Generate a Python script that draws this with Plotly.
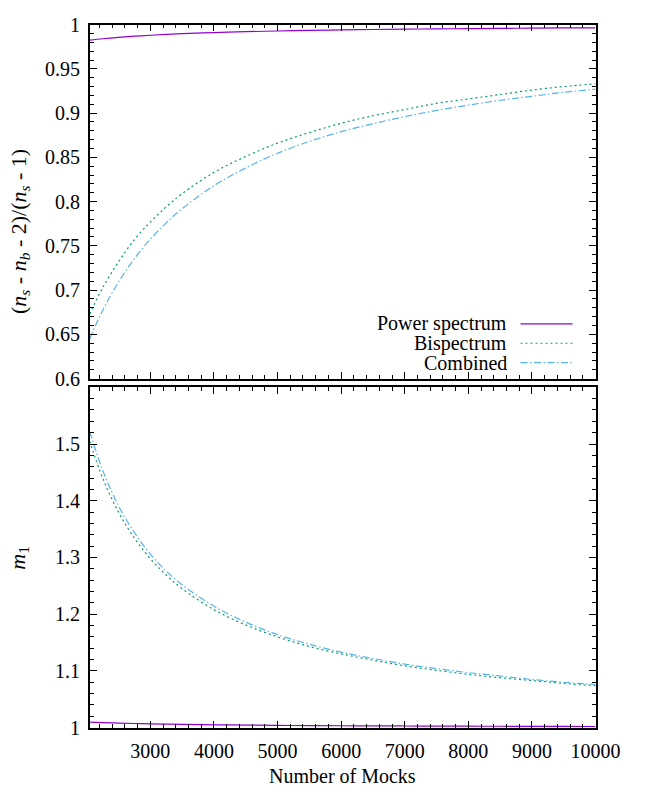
import plotly.graph_objects as go

# Number of mocks sampled along the x axis
n_mocks = [2048, 2250, 2500, 2750, 3000, 3250, 3500, 4000, 4500, 5000,
           5500, 6000, 6500, 7000, 7500, 8000, 8500, 9000, 9500, 10000]

# Hartlap-type correction factor (n_s - n_b - 2)/(n_s - 1)
hartlap_pk = [0.9824, 0.9840, 0.9856, 0.9869, 0.9880, 0.9889, 0.9897, 0.9910, 0.9920, 0.9928,
              0.9935, 0.9940, 0.9945, 0.9949, 0.9952, 0.9955, 0.9958, 0.9960, 0.9962, 0.9964]
hartlap_bk = [0.673, 0.7025, 0.732, 0.757, 0.777, 0.794, 0.809, 0.833, 0.851, 0.866,
              0.878, 0.8885, 0.897, 0.904, 0.911, 0.916, 0.921, 0.926, 0.930, 0.933]
hartlap_comb = [0.645, 0.677, 0.709, 0.7355, 0.7576, 0.776, 0.792, 0.818, 0.838, 0.8546,
                0.868, 0.879, 0.888, 0.896, 0.903, 0.909, 0.9145, 0.919, 0.9235, 0.927]

# m_1 factor
m1_pk = [1.0098, 1.0089, 1.0080, 1.0073, 1.0067, 1.0062, 1.0057, 1.0050, 1.0044, 1.0040,
         1.0036, 1.0033, 1.0031, 1.0029, 1.0027, 1.0025, 1.0024, 1.0022, 1.0021, 1.0020]
m1_bk = [1.505, 1.440, 1.380, 1.334, 1.298, 1.269, 1.245, 1.208, 1.181, 1.160,
         1.143, 1.130, 1.119, 1.109, 1.101, 1.094, 1.088, 1.083, 1.078, 1.074]
m1_comb = [1.522, 1.454, 1.391, 1.344, 1.306, 1.276, 1.252, 1.214, 1.186, 1.164,
           1.147, 1.133, 1.122, 1.112, 1.104, 1.097, 1.091, 1.085, 1.080, 1.076]

series_names = ["Power spectrum", "Bispectrum", "Combined"]
colors = ["#9400d3", "#009e73", "#56b4e9"]
dashes = ["solid", "2px,3px", "7px,2.5px,1.5px,2.5px"]

top_ticks = [0.6, 0.65, 0.7, 0.75, 0.8, 0.85, 0.9, 0.95, 1]
bottom_ticks = [1, 1.1, 1.2, 1.3, 1.4, 1.5]
x_ticks = [3000, 4000, 5000, 6000, 7000, 8000, 9000, 10000]

W, H = 661, 796
FONT = "'Liberation Serif', 'Times New Roman', Times, serif"
FS = 20
TITLE_FS = 22

fig = go.Figure()

top_series = [hartlap_pk, hartlap_bk, hartlap_comb]
bottom_series = [m1_pk, m1_bk, m1_comb]
for name, col, dash, yt, yb in zip(series_names, colors, dashes, top_series, bottom_series):
    fig.add_trace(go.Scatter(x=n_mocks, y=yt, mode="lines", name=name,
                             line=dict(color=col, width=1.2, dash=dash, shape="spline"),
                             xaxis="x2", yaxis="y2", showlegend=False))
    fig.add_trace(go.Scatter(x=n_mocks, y=yb, mode="lines", name=name,
                             line=dict(color=col, width=1.2, dash=dash, shape="spline"),
                             xaxis="x", yaxis="y", showlegend=False))

# Plot-area geometry (pixels)
left, right = 93.3, 619
top_t, top_b = 14, 378
bot_t, bot_b = 387, 737

axis_common = dict(showline=True, linecolor="black", linewidth=1.5, mirror="allticks",
                   ticks="inside", ticklen=7, tickwidth=1, tickcolor="black",
                   showgrid=False, zeroline=False,
                   tickfont=dict(family=FONT, size=FS, color="black"))

minor_x = dict(ticks="inside", ticklen=4, tickwidth=1, tickcolor="black",
               tickmode="linear", tick0=0, dtick=200, showgrid=False)

xrange = [2048, 10000]
fig.update_layout(
    width=W, height=H,
    margin=dict(l=0, r=0, t=0, b=0),
    paper_bgcolor="white", plot_bgcolor="white",
    font=dict(family=FONT, size=FS, color="black"),
    xaxis=dict(domain=[left / W, right / W], anchor="y", range=xrange,
               tickmode="array", tickvals=x_ticks, ticktext=[str(v) for v in x_ticks],
               ticklabelstandoff=5, minor=minor_x, **axis_common),
    xaxis2=dict(domain=[left / W, right / W], anchor="y2", range=xrange, matches="x",
                tickmode="array", tickvals=x_ticks, showticklabels=False,
                minor=minor_x, **axis_common),
    yaxis=dict(domain=[1 - bot_b / H, 1 - bot_t / H], anchor="x", range=[1, 1.6],
               tickmode="array", tickvals=bottom_ticks, ticktext=[f"{v:g}" for v in bottom_ticks],
               ticklabelstandoff=4,
               minor=dict(ticks="inside", ticklen=4, tickwidth=1, tickcolor="black",
                          tickmode="linear", tick0=0, dtick=0.02, showgrid=False),
               **axis_common),
    yaxis2=dict(domain=[1 - top_b / H, 1 - top_t / H], anchor="x2", range=[0.6, 1.0],
                tickmode="array", tickvals=top_ticks, ticktext=[f"{v:g}" for v in top_ticks],
                ticklabelstandoff=4,
                minor=dict(ticks="inside", ticklen=4, tickwidth=1, tickcolor="black",
                           tickmode="linear", tick0=0, dtick=0.01, showgrid=False),
                **axis_common),
)

annotations = [
    dict(text="(<i>n<sub>s</sub></i> - <i>n<sub>b</sub></i> - 2)/(<i>n<sub>s</sub></i> - 1)",
         x=20 / W, y=1 - 227 / H, xref="paper", yref="paper", textangle=-90,
         showarrow=False, xanchor="center", yanchor="middle",
         font=dict(family=FONT, size=TITLE_FS, color="black")),
    dict(text="<i>m</i><sub>1</sub>",
         x=20 / W, y=1 - 562 / H, xref="paper", yref="paper", textangle=-90,
         showarrow=False, xanchor="center", yanchor="middle",
         font=dict(family=FONT, size=TITLE_FS, color="black")),
    dict(text="Number of Mocks",
         x=(left + right) / 2 / W, y=1 - 787 / H, xref="paper", yref="paper",
         showarrow=False, xanchor="center", yanchor="middle",
         font=dict(family=FONT, size=FS, color="black")),
]

# Key in the lower right of the upper panel
shapes = []
key_rows = [321.7, 341.7, 361.7]
for name, col, dash, ry in zip(series_names, colors, dashes, key_rows):
    annotations.append(dict(text=name, x=529 / W, y=1 - ry / H, xref="paper", yref="paper",
                            showarrow=False, xanchor="right", yanchor="middle",
                            font=dict(family=FONT, size=FS, color="black")))
    shapes.append(dict(type="line", xref="paper", yref="paper",
                       x0=541 / W, x1=595 / W, y0=1 - ry / H, y1=1 - ry / H,
                       line=dict(color=col, width=1.2, dash=dash)))

fig.update_layout(annotations=annotations, shapes=shapes)

fig.write_html("out.html")
